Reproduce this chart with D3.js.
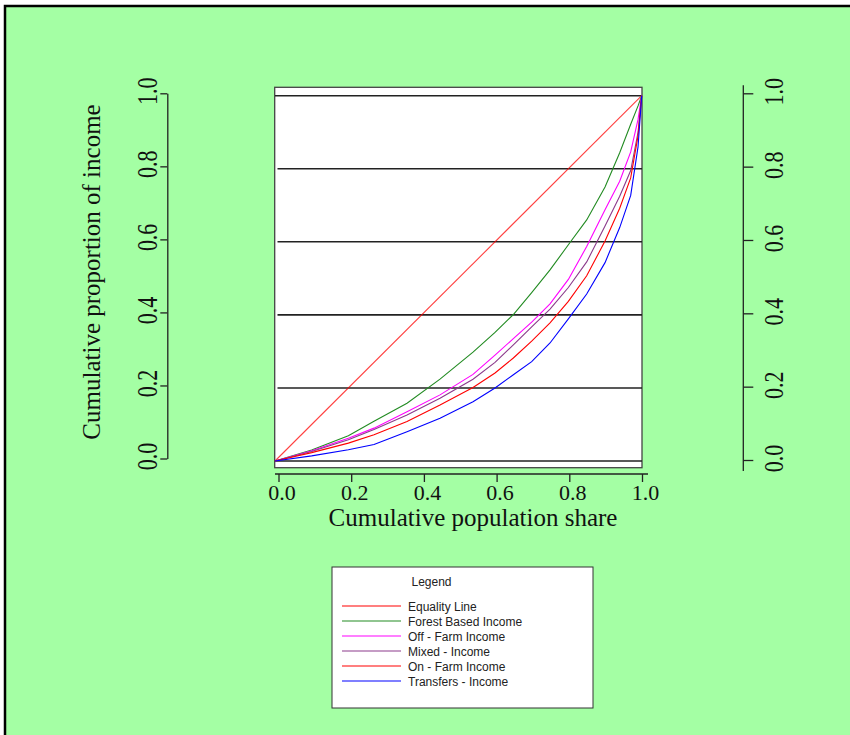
<!DOCTYPE html>
<html>
<head>
<meta charset="utf-8">
<script src="https://cdn.jsdelivr.net/npm/d3@7"></script>
<style>
  body { margin: 0; background: #fff; }
</style>
</head>
<body>
<div id="container"></div>
<script>
// cumulative population share (shared x for all Lorenz curves)
let popShare = [0, 0.1, 0.2, 0.27, 0.36, 0.45, 0.54, 0.6, 0.65, 0.7, 0.75, 0.8, 0.85, 0.9, 0.94, 0.97, 0.99, 1];

let forestIncome    = [0, 0.030, 0.069, 0.109, 0.158, 0.224, 0.298, 0.352, 0.401, 0.461, 0.523, 0.592, 0.660, 0.750, 0.844, 0.922, 0.972, 1];
let offFarmIncome   = [0, 0.028, 0.062, 0.090, 0.135, 0.181, 0.237, 0.290, 0.335, 0.380, 0.430, 0.497, 0.587, 0.688, 0.766, 0.846, 0.935, 1];
let mixedIncome     = [0, 0.026, 0.058, 0.086, 0.126, 0.172, 0.224, 0.270, 0.318, 0.367, 0.416, 0.475, 0.545, 0.643, 0.725, 0.795, 0.900, 1];
let onFarmIncome    = [0, 0.023, 0.049, 0.072, 0.108, 0.153, 0.201, 0.241, 0.282, 0.328, 0.378, 0.437, 0.507, 0.602, 0.692, 0.775, 0.890, 1];
let transfersIncome = [0, 0.014, 0.031, 0.045, 0.080, 0.117, 0.162, 0.200, 0.236, 0.272, 0.323, 0.389, 0.457, 0.543, 0.639, 0.727, 0.860, 1];

let equalityShare  = [0, 1];
let equalityIncome = [0, 1];

let legendNames  = ["Equality Line", "Forest Based Income", "Off - Farm Income", "Mixed - Income", "On - Farm Income", "Transfers - Income"];
let legendColors = ["#ff0000", "#228b22", "#ff00ff", "#8b3a8b", "#ff0000", "#0000ff"];

let tickValues = [0, 0.2, 0.4, 0.6, 0.8, 1.0];

let w = 850, h = 735;
let serif = "'Liberation Serif', 'Times New Roman', serif";
let sans = "'Liberation Sans', Arial, sans-serif";

let viz = d3.select("#container")
  .append("svg")
    .attr("width", w)
    .attr("height", h)
;

// page background + frame
viz.append("rect")
  .attr("x", 5).attr("y", 6)
  .attr("width", w + 10).attr("height", h + 10)
  .attr("fill", "#a4ffa4")
  .attr("stroke", "#000")
  .attr("stroke-width", 2.5)
;

// scales
let xPlot = d3.scaleLinear().domain([0, 1]).range([275, 641.7]);
let yPlot = d3.scaleLinear().domain([0, 1]).range([461, 95.7]);
let xAxisScale = d3.scaleLinear().domain([0, 1]).range([278.5, 642]);
let yLeft = d3.scaleLinear().domain([0, 1]).range([458.5, 93.3]);
let yRight = d3.scaleLinear().domain([0, 1]).range([460, 93.3]);

// plot box
viz.append("rect")
  .attr("x", 274.7).attr("y", 87.3)
  .attr("width", 367.3).attr("height", 380.4)
  .attr("fill", "#fff")
  .attr("stroke", "#444")
  .attr("stroke-width", 1.3)
;

// horizontal reference lines
viz.append("g").selectAll("line")
  .data(tickValues)
  .enter()
  .append("line")
    .attr("x1", (d, i) => (i == 0 || i == 5) ? 275 : 277.5)
    .attr("x2", 642)
    .attr("y1", d => yPlot(d))
    .attr("y2", d => yPlot(d))
    .attr("stroke", "#222")
    .attr("stroke-width", 1.6)
;

// curves
let seriesList = [
  { x: equalityShare, y: equalityIncome },
  { x: popShare, y: forestIncome },
  { x: popShare, y: offFarmIncome },
  { x: popShare, y: mixedIncome },
  { x: popShare, y: onFarmIncome },
  { x: popShare, y: transfersIncome }
];

let line = d3.line()
  .x(d => xPlot(d[0]))
  .y(d => yPlot(d[1]));

viz.append("g").selectAll("path")
  .data(seriesList)
  .enter()
  .append("path")
    .attr("d", s => line(s.x.map((v, i) => [v, s.y[i]])))
    .attr("fill", "none")
    .attr("stroke", (s, i) => legendColors[i])
    .attr("stroke-width", 1.1)
    .attr("stroke-opacity", (s, i) => i == 0 ? 0.75 : 1)
;

// bottom axis
let bottomAxis = viz.append("g")
  .attr("transform", "translate(0,474)")
  .call(d3.axisBottom(xAxisScale).tickValues(tickValues).tickSize(8).tickSizeOuter(0).tickFormat(d3.format(".1f")))
;
bottomAxis.select(".domain").attr("d", "M275,0H648").attr("stroke", "#222").attr("stroke-width", 1.3);
bottomAxis.selectAll(".tick line").attr("stroke", "#222").attr("stroke-width", 1.3);
bottomAxis.selectAll(".tick text")
  .attr("y", 26).attr("dy", null).attr("dx", 3)
  .attr("font-family", serif)
  .attr("font-size", 22)
  .attr("fill", "#111")
;

// left axis
let leftAxis = viz.append("g")
  .attr("transform", "translate(167.3,0)")
  .call(d3.axisLeft(yLeft).tickValues(tickValues).tickSize(7).tickSizeOuter(0).tickFormat(""))
;
leftAxis.select(".domain").attr("stroke", "#222").attr("stroke-width", 1.3);
leftAxis.selectAll(".tick line").attr("stroke", "#222").attr("stroke-width", 1.3);

viz.append("g").selectAll("text")
  .data(tickValues)
  .enter()
  .append("text")
    .text(d => d3.format(".1f")(d))
    .attr("transform", d => "translate(157," + (yLeft(d) - 2) + ") rotate(-90) scale(1,1.35)")
    .attr("text-anchor", "middle")
    .attr("font-family", serif)
    .attr("font-size", 22)
    .attr("fill", "#111")
;

// right axis
let rightAxis = viz.append("g")
  .attr("transform", "translate(743.3,0)")
  .call(d3.axisRight(yRight).tickValues(tickValues).tickSize(10).tickSizeOuter(0).tickFormat(""))
;
rightAxis.select(".domain").attr("d", "M0," + yRight(1.022) + "V" + yRight(-0.03)).attr("stroke", "#222").attr("stroke-width", 1.3);
rightAxis.selectAll(".tick line").attr("stroke", "#222").attr("stroke-width", 1.3);

viz.append("g").selectAll("text")
  .data(tickValues)
  .enter()
  .append("text")
    .text(d => d3.format(".1f")(d))
    .attr("transform", d => "translate(783," + (yRight(d) - 1.5) + ") rotate(-90) scale(1,1.2)")
    .attr("text-anchor", "middle")
    .attr("font-family", serif)
    .attr("font-size", 22)
    .attr("fill", "#111")
;

// axis titles
viz.append("text")
  .text("Cumulative population share")
  .attr("x", 473).attr("y", 526)
  .attr("text-anchor", "middle")
  .attr("font-family", serif)
  .attr("font-size", 25)
  .attr("fill", "#111")
;

viz.append("text")
  .text("Cumulative proportion of income")
  .attr("transform", "translate(99.5,272) rotate(-90)")
  .attr("text-anchor", "middle")
  .attr("font-family", serif)
  .attr("font-size", 25)
  .attr("fill", "#111")
;

// legend
let legend = viz.append("g").attr("class", "legend");

legend.append("rect")
  .attr("x", 332).attr("y", 567)
  .attr("width", 261).attr("height", 141)
  .attr("fill", "#fff")
  .attr("stroke", "#333")
  .attr("stroke-width", 1)
;

legend.append("text")
  .text("Legend")
  .attr("x", 411.5).attr("y", 585.5)
  .attr("font-family", sans)
  .attr("font-size", 12)
  .attr("fill", "#222")
;

let rows = legend.selectAll(".row")
  .data(legendNames)
  .enter()
  .append("g")
    .attr("class", "row")
    .attr("transform", (d, i) => "translate(0," + (606 + i * 15) + ")")
;

rows.append("line")
  .attr("x1", 342).attr("x2", 401)
  .attr("y1", 0).attr("y2", 0)
  .attr("stroke", (d, i) => legendColors[i])
  .attr("stroke-width", 1.1)
;

rows.append("text")
  .text(d => d)
  .attr("x", 408).attr("y", 4.5)
  .attr("font-family", sans)
  .attr("font-size", 12)
  .attr("fill", "#222")
;
</script>
</body>
</html>
